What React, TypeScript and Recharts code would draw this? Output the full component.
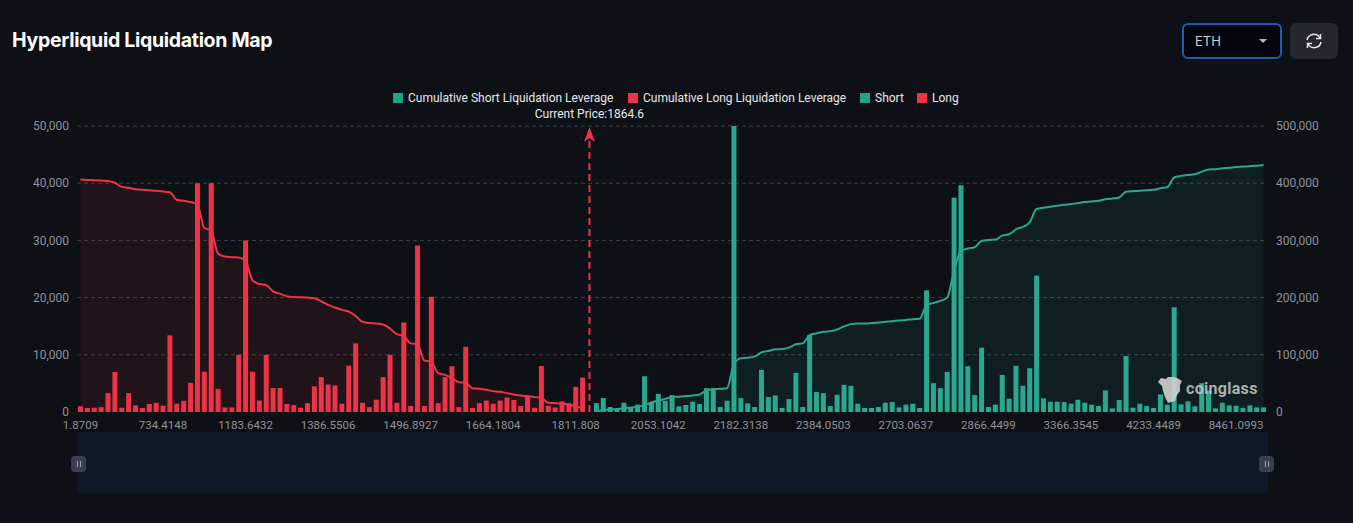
import {
  Area,
  Bar,
  CartesianGrid,
  ComposedChart,
  Line,
  ReferenceLine,
  XAxis,
  YAxis,
} from 'recharts';

const tickLabels = [
  '1.8709', '734.4148', '1183.6432', '1386.5506', '1496.8927',
  '1664.1804', '1811.808', '2053.1042', '2182.3138', '2384.0503',
  '2703.0637', '2866.4499', '3366.3545', '4233.4489', '8461.0993',
];
const leftTicks = [0, 10000, 20000, 30000, 40000, 50000];
const rightTicks = [0, 100000, 200000, 300000, 400000, 500000];
const legendItems = [
  { name: 'Cumulative Short Liquidation Leverage', color: '#20a287', left: 393 },
  { name: 'Cumulative Long Liquidation Leverage', color: '#ee3347', left: 628 },
  { name: 'Short', color: '#20a287', left: 860 },
  { name: 'Long', color: '#ee3347', left: 917 },
];
const currentPrice = '1864.6';

// long bars, index 0 upward (left axis)
const longValues = [
  1000, 700, 750, 850, 3300, 7000, 750, 3300, 1150, 700, 1400, 1600, 1100, 13400, 1450, 1950,
  5100, 40000, 7050, 40000, 4050, 800, 800, 10000, 30000, 7050, 2000, 10000, 4200, 4200, 1400,
  1200, 750, 1550, 4500, 6100, 4800, 4650, 1450, 8100, 12000, 1600, 850, 2150, 6100, 10000,
  1600, 15650, 1050, 29100, 1050, 20150, 1550, 6100, 8000, 850, 11400, 700, 1550, 2000, 1450,
  2000, 2550, 2100, 1050, 2800, 750, 8050, 1100, 800, 1850, 1550, 4400, 6000,
];
// short bars, start one slot after the current price
const shortValues = [
  1550, 2450, 870, 640, 1620, 810, 1280, 6260, 1740, 3190, 1970, 2960, 990, 1220, 1800, 1390,
  4170, 4170, 870, 1970, 50000, 2430, 1510, 870, 7360, 2610, 2900, 700, 2260, 6840, 870, 13450,
  3480, 3300, 1040, 3010, 4750, 4580, 1450, 700, 700, 870, 1620, 1740, 810, 1280, 1450, 700,
  21280, 5040, 4170, 7010, 37450, 39650, 8000, 2960, 11250, 870, 1280, 6490, 2320, 8060, 4580,
  7650, 23880, 2380, 1800, 1800, 1740, 1450, 2150, 1620, 1280, 1040, 3770, 640, 2090, 9800,
  750, 1450, 1040, 700, 3070, 1280, 18320, 1330, 1855, 990, 5040, 3770, 640, 1620, 1160, 1100,
  700, 1160, 810, 810,
];
// cumulative lines (right axis)
const cumLongValues = [
  406400, 405800, 405200, 404600, 404000, 401000, 393600, 392000, 389600, 388400, 387800, 386700,
  385500, 384300, 371000, 369300, 367000, 364000, 321700, 317700, 276500, 271900, 270700, 270000,
  264300, 230700, 223800, 222000, 211000, 207000, 202300, 201000, 200600, 200000, 198800, 193600,
  187200, 182600, 178600, 175700, 168000, 157700, 155400, 154800, 153000, 146000, 136000, 133000,
  120000, 118800, 89900, 88000, 67800, 65000, 59000, 52000, 51000, 41700, 40600, 38800, 36500,
  35400, 33000, 30700, 29000, 27800, 26000, 25000, 16200, 15700, 14500, 13300, 10400, 6400,
];
const cumShortValues = [
  1200, 2900, 4600, 5200, 6400, 8000, 9300, 11600, 16800, 19700, 23000, 26000, 26700, 27800,
  29000, 30700, 37700, 40000, 40600, 41700, 84000, 93900, 95000, 96800, 104300, 106700, 109600,
  110000, 112500, 118300, 120000, 134500, 137400, 140300, 141400, 144300, 149600, 153600, 154800,
  154800, 155400, 156500, 157700, 158800, 160000, 161000, 162300, 162900, 187000, 190700, 194200,
  200000, 246400, 281200, 285800, 288000, 299000, 300900, 301400, 308400, 310700, 319400, 323500,
  331600, 354800, 357000, 358800, 360600, 362300, 363500, 365200, 367000, 368000, 369300, 372000,
  373300, 375000, 385000, 386000, 386700, 387800, 388400, 391300, 393000, 410000, 412800, 414500,
  415700, 420000, 424000, 424600, 426000, 427000, 428400, 429000, 429600, 430700, 431900,
];

const TICK_STEP = 12;
const PRICE_SLOT = longValues.length;
const SHORT_START = PRICE_SLOT + 1;

const rows = Array.from({ length: SHORT_START + shortValues.length }, (_, idx) => ({
  idx,
  long: idx < PRICE_SLOT ? longValues[idx] : null,
  short: idx >= SHORT_START ? shortValues[idx - SHORT_START] : null,
  cumLong: idx < PRICE_SLOT ? cumLongValues[idx] : null,
  cumShort: idx >= SHORT_START ? cumShortValues[idx - SHORT_START] : null,
}));

const RED = '#ee3347';
const GREEN = '#2aa78f';
const AXIS_TEXT = '#8f939a';
const BG = '#0d1015';
const UI_FONT = 'Inter, "Noto Sans", sans-serif';
const AXIS_FONT = 'Roboto, sans-serif';

const PriceMark = ({ viewBox }: any) => {
  const x = viewBox.x;
  const top = viewBox.y;
  return (
    <g>
      <polygon
        points={`${x},${top + 1} ${x + 5.5},${top + 16} ${x},${top + 12} ${x - 5.5},${top + 16}`}
        fill={RED}
      />
      <text x={x} y={top - 8} fill="#e8e8ea" fontSize={12} fontFamily={AXIS_FONT} textAnchor="middle">
        {`Current Price:${currentPrice}`}
      </text>
    </g>
  );
};

const Handle = ({ left }: { left: number }) => (
  <div
    style={{
      position: 'absolute', left, top: 456, width: 15, height: 16, borderRadius: 4,
      background: '#3a3e4e', display: 'flex', justifyContent: 'center', alignItems: 'center', gap: 2,
    }}
  >
    <span style={{ width: 1, height: 6, background: '#a0a4b0' }} />
    <span style={{ width: 1, height: 6, background: '#a0a4b0' }} />
  </div>
);

export default function App() {
  return (
    <div
      style={{
        position: 'absolute', left: 0, top: 0, width: 1353, height: 523,
        background: BG, overflow: 'hidden', fontFamily: UI_FONT,
      }}
    >
      <div
        style={{
          position: 'absolute', left: 12, top: 28, color: '#fff', fontSize: 19.5,
          fontWeight: 700, letterSpacing: -0.3, whiteSpace: 'nowrap',
        }}
      >
        Hyperliquid Liquidation Map
      </div>

      {/* coin select + refresh */}
      <div
        style={{
          position: 'absolute', left: 1182, top: 23, width: 100, height: 36, boxSizing: 'border-box',
          border: '2px solid #1c5dab', borderRadius: 6, background: '#04050a', color: '#cfd1d6',
          fontSize: 13, lineHeight: '32px', paddingLeft: 11,
        }}
      >
        ETH
        <svg width="10" height="5" style={{ position: 'absolute', left: 75, top: 14 }}>
          <polygon points="0,0 8,0 4,4" fill="#b8bac0" />
        </svg>
      </div>
      <div
        style={{
          position: 'absolute', left: 1290, top: 23, width: 48, height: 36, borderRadius: 6,
          background: '#24272e',
        }}
      >
        <svg width="18" height="18" viewBox="0 0 18 18" style={{ position: 'absolute', left: 15, top: 9 }}>
          <path d="M2 8 A7 7 0 0 1 15 6" fill="none" stroke="#e8e8ea" strokeWidth="1.5" />
          <path d="M16 10 A7 7 0 0 1 3 12" fill="none" stroke="#e8e8ea" strokeWidth="1.5" />
          <polyline points="15.5,2 15.5,6.5 11,6.5" fill="none" stroke="#e8e8ea" strokeWidth="1.5" />
          <polyline points="2.5,16 2.5,11.5 7,11.5" fill="none" stroke="#e8e8ea" strokeWidth="1.5" />
        </svg>
      </div>

      {/* legend */}
      {legendItems.map((item) => (
        <div key={item.name} style={{ position: 'absolute', left: item.left, top: 91, height: 15, whiteSpace: 'nowrap' }}>
          <span
            style={{
              position: 'absolute', left: 0, top: 2, width: 10, height: 10, background: item.color,
            }}
          />
          <span
            style={{
              position: 'absolute', left: 15, top: 0, color: '#e8e8ea', fontSize: 12, lineHeight: '15px',
              fontFamily: AXIS_FONT,
            }}
          >
            {item.name}
          </span>
        </div>
      ))}

      {/* zoom slider */}
      <div style={{ position: 'absolute', left: 78, top: 432, width: 1190, height: 61, background: '#0f1829' }} />
      <Handle left={71} />
      <Handle left={1259} />

      <div style={{ position: 'absolute', left: 0, top: 0 }}>
        <ComposedChart
          width={1353}
          height={523}
          data={rows}
          margin={{ top: 126, right: 0, bottom: 0, left: 0 }}
          barCategoryGap={0}
        >
          <CartesianGrid
            yAxisId="left"
            vertical={false}
            horizontalValues={leftTicks.slice(1)}
            stroke="#3c424a"
            strokeDasharray="4 3"
          />
          <XAxis
            dataKey="idx"
            ticks={tickLabels.map((_, i) => i * TICK_STEP)}
            interval={0}
            tickFormatter={(v: number) => tickLabels[v / TICK_STEP]}
            tick={{ fill: AXIS_TEXT, fontSize: 11.5, fontFamily: AXIS_FONT }}
            tickSize={0}
            tickMargin={9}
            axisLine={false}
            height={111}
          />
          <YAxis
            yAxisId="left"
            width={77}
            domain={[0, 50000]}
            ticks={leftTicks}
            tickFormatter={(v: number) => v.toLocaleString('en-US')}
            tick={{ fill: AXIS_TEXT, fontSize: 12, fontFamily: AXIS_FONT }}
            tickSize={0}
            tickMargin={8}
            axisLine={false}
          />
          <YAxis
            yAxisId="right"
            orientation="right"
            width={86}
            domain={[0, 500000]}
            ticks={rightTicks}
            tickFormatter={(v: number) => v.toLocaleString('en-US')}
            tick={{ fill: AXIS_TEXT, fontSize: 12, fontFamily: AXIS_FONT }}
            tickSize={0}
            tickMargin={9}
            axisLine={false}
          />
          <Area
            yAxisId="right"
            type="monotone"
            dataKey="cumLong"
            stroke="none"
            fill={RED}
            fillOpacity={0.09}
            isAnimationActive={false}
          />
          <Area
            yAxisId="right"
            type="monotone"
            dataKey="cumShort"
            stroke="none"
            fill={GREEN}
            fillOpacity={0.1}
            isAnimationActive={false}
          />
          <Bar yAxisId="left" dataKey="long" stackId="liq" barSize={5} fill={RED} isAnimationActive={false} />
          <Bar yAxisId="left" dataKey="short" stackId="liq" barSize={5} fill={GREEN} isAnimationActive={false} />
          <Line
            yAxisId="right"
            type="monotone"
            dataKey="cumLong"
            stroke={RED}
            strokeWidth={2}
            dot={false}
            isAnimationActive={false}
          />
          <Line
            yAxisId="right"
            type="monotone"
            dataKey="cumShort"
            stroke={GREEN}
            strokeWidth={2}
            dot={false}
            isAnimationActive={false}
          />
          <ReferenceLine
            yAxisId="left"
            x={PRICE_SLOT}
            stroke={RED}
            strokeWidth={2}
            strokeDasharray="7 4"
            label={<PriceMark />}
          />
        </ComposedChart>
      </div>

      {/* watermark */}
      <svg width="26" height="28" style={{ position: 'absolute', left: 1158, top: 376, opacity: 0.9 }}>
        <polygon
          points="0,6 3,2 8,3 10,1 16,1 19,2 24,5 22,9 22,15 19,19 17,25 10,27 7,21 5,15 4,10"
          fill="#d2d2d2"
        />
      </svg>
      <div
        style={{
          position: 'absolute', left: 1186, top: 379, color: '#c9c9c9', opacity: 0.85,
          fontFamily: AXIS_FONT, fontWeight: 700, fontSize: 16, letterSpacing: 0.3,
        }}
      >
        coinglass
      </div>
    </div>
  );
}
